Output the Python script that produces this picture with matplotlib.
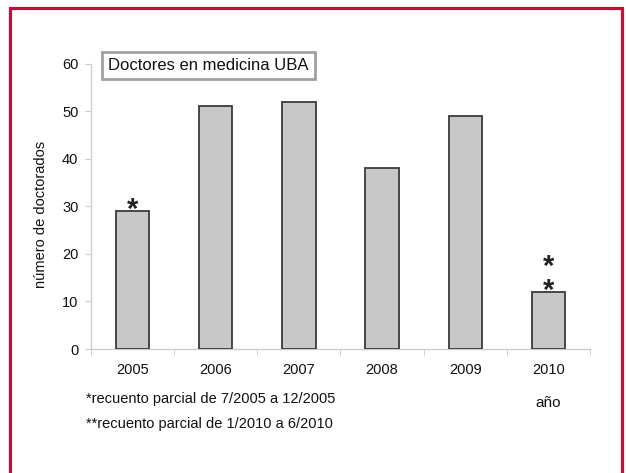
import matplotlib
matplotlib.use("Agg")
import matplotlib.pyplot as plt
from matplotlib.patches import Rectangle
import numpy as np

plt.rcParams['font.family'] = ['Liberation Sans', 'DejaVu Sans']

years = ["2005", "2006", "2007", "2008", "2009", "2010"]
values = [29, 51, 52, 38, 49, 12]
n_marks = [1, 0, 0, 0, 0, 2]

W, H = 626, 473
fig = plt.figure(figsize=(W / 100, H / 100), dpi=100)
fig.patch.set_facecolor("white")

# crimson frame (bottom edge runs off the image)
fig.patches.append(Rectangle((9.5 / W, -0.05), (621.5 - 9.5) / W, 1 - 8 / H + 0.05,
                             transform=fig.transFigure, fill=False,
                             edgecolor="#c0103c", linewidth=2.3, zorder=0))

ax_l, ax_r, ax_b, ax_t = 91, 590, 349, 63.5
ax = fig.add_axes([ax_l / W, 1 - ax_b / H, (ax_r - ax_l) / W, (ax_b - ax_t) / H])
x = np.arange(len(years))
ax.bar(x, values, width=0.4, color="#c8c8c8", edgecolor="#3a3a3a", linewidth=1.3, zorder=3)

ax.set_xlim(-0.5, len(years) - 0.5)
ax.set_ylim(0, 60)
ax.set_yticks(np.arange(0, 61, 10))
ax.set_xticks(x)
ax.set_xticklabels(years)
ax.set_xticks(np.arange(-0.5, len(years)), minor=True)
ax.tick_params(axis='x', which='major', length=0, pad=10, labelsize=10.5, labelcolor="#111111")
ax.tick_params(axis='x', which='minor', length=5, color="#cccccc", direction='out')
ax.tick_params(axis='y', length=4, color="#cccccc", labelsize=10.5, pad=5, labelcolor="#111111")

for s in ["top", "right"]:
    ax.spines[s].set_visible(False)
for s in ["left", "bottom"]:
    ax.spines[s].set_color("#cccccc")
    ax.spines[s].set_linewidth(1.0)

ax.set_ylabel("número de doctorados", fontsize=10.5, color="#111111")
ax.yaxis.set_label_coords((48 - ax_l) / (ax_r - ax_l), (ax_b - 214.5) / (ax_b - ax_t))

# asterisks (one text per bar, stacked lines)
for xi, v, k in zip(x, values, n_marks):
    if k:
        ax.annotate("\n".join(["*"] * k), (xi, v), xytext=(0, -7 * 0.72),
                    textcoords='offset points', ha='center', va='baseline',
                    fontsize=21, fontweight='bold', linespacing=0.82,
                    color="#222222", zorder=4)

# title box
fig.text(108 / W, 1 - 65.5 / H, "Doctores en medicina UBA", fontsize=12,
         ha='left', va='center', color="#111111",
         bbox=dict(boxstyle='square,pad=0.37', facecolor='white',
                   edgecolor='#a0a0a0', linewidth=2))

fig.text(86 / W, 1 - 399 / H, "*recuento parcial de 7/2005 a 12/2005", fontsize=10.5,
         ha='left', va='center', color="#111111")
fig.text(86 / W, 1 - 424 / H, "**recuento parcial de 1/2010 a 6/2010", fontsize=10.5,
         ha='left', va='center', color="#111111")
fig.text(548 / W, 1 - 403 / H, "año", fontsize=11, ha='center', va='center', color="#111111")

fig.savefig("out.png", dpi=100)
